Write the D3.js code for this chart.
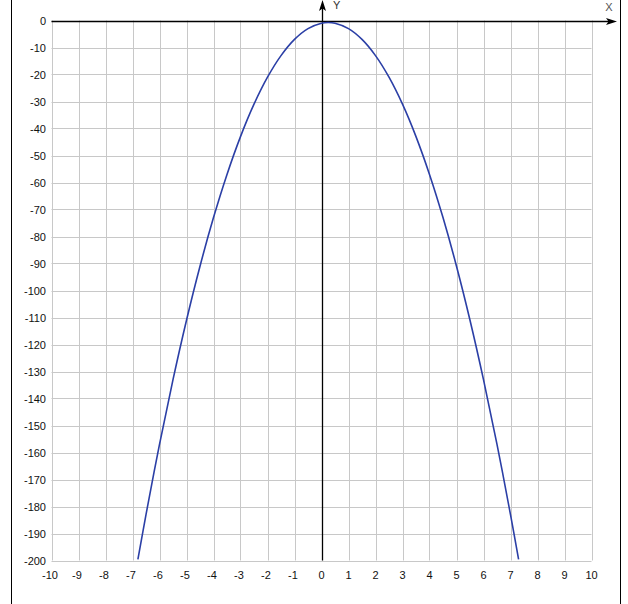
<!DOCTYPE html>
<html><head><meta charset="utf-8">
<script src="https://cdn.jsdelivr.net/npm/d3@7"></script>
<style>html,body{margin:0;padding:0;background:#fff;}svg{display:block;}</style>
</head><body>
<script>
const xTicks = [-10,-9,-8,-7,-6,-5,-4,-3,-2,-1,0,1,2,3,4,5,6,7,8,9,10];
const yTicks = [0,-10,-20,-30,-40,-50,-60,-70,-80,-90,-100,-110,-120,-130,-140,-150,-160,-170,-180,-190,-200];
const curveX = [-6.8,-6.5,-6,-5.5,-5,-4.5,-4,-3.5,-3,-2.5,-2,-1.5,-1,-0.5,0,0.25,0.5,1,1.5,2,2.5,3,3.5,4,4.5,5,5.5,6,6.5,7,7.3];
const curveY = [-199.56,-183,-157,-133,-111,-91,-73,-57,-43,-31,-21,-13,-7,-3,-1,-0.75,-1,-3,-7,-13,-21,-31,-43,-57,-73,-91,-111,-133,-157,-183,-199.56];

const W = 628, H = 604;
const svg = d3.select("body").append("svg").attr("width", W).attr("height", H);
const x = d3.scaleLinear().domain([-10,10]).range([51.5,591.5]);
const y = d3.scaleLinear().domain([0,-200]).range([20.5,560.5]);
const font = "'Liberation Sans', Arial, sans-serif";

// frame lines
svg.append("line").attr("x1",11.5).attr("x2",11.5).attr("y1",0).attr("y2",H).attr("stroke","#000").attr("stroke-width",1);
svg.append("line").attr("x1",620.5).attr("x2",620.5).attr("y1",0).attr("y2",H).attr("stroke","#000").attr("stroke-width",1);

// grid
svg.append("g").selectAll("line").data(xTicks).join("line")
  .attr("x1",d=>Math.round(x(d))+0.5).attr("x2",d=>Math.round(x(d))+0.5)
  .attr("y1",y(0)).attr("y2",y(-200)).attr("stroke","#c8c8c8").attr("stroke-width",1);
svg.append("g").selectAll("line").data(yTicks).join("line")
  .attr("x1",x(-10)).attr("x2",x(10))
  .attr("y1",d=>Math.round(y(d))+0.5).attr("y2",d=>Math.round(y(d))+0.5).attr("stroke","#c8c8c8").attr("stroke-width",1);

// axes
svg.append("line").attr("x1",x(-10)).attr("x2",612).attr("y1",Math.round(y(0))+0.5).attr("y2",Math.round(y(0))+0.5).attr("stroke","#000").attr("stroke-width",1.3);
svg.append("path").attr("d",`M617,${Math.round(y(0))+0.5} L606,${Math.round(y(0))-3} L608.5,${Math.round(y(0))+0.5} L606,${Math.round(y(0))+4} Z`).attr("fill","#000");
svg.append("line").attr("x1",Math.round(x(0))+0.5).attr("x2",Math.round(x(0))+0.5).attr("y1",y(-200)).attr("y2",6).attr("stroke","#000").attr("stroke-width",1.3);
svg.append("path").attr("d",`M${Math.round(x(0))+0.5},0 L${Math.round(x(0))-3},11 L${Math.round(x(0))+0.5},8.5 L${Math.round(x(0))+4},11 Z`).attr("fill","#000");
svg.append("text").attr("x",609).attr("y",11).attr("font-family",font).attr("font-size",11).attr("fill","#555").attr("text-anchor","middle").text("X");
svg.append("text").attr("x",333).attr("y",9).attr("font-family",font).attr("font-size",11).attr("fill","#333").text("Y");

// tick labels
svg.append("g").selectAll("text").data(yTicks).join("text")
  .attr("x",46).attr("y",d=>y(d)+4).attr("text-anchor","end")
  .attr("font-family",font).attr("font-size",11).attr("fill","#111").text(d=>d);
svg.append("g").selectAll("text").data(xTicks).join("text")
  .attr("x",d=>x(d)+ (d<0?-1.5:0)).attr("y",579).attr("text-anchor","middle")
  .attr("font-family",font).attr("font-size",11).attr("fill","#111").text(d=>d);

// curve
const pts = curveX.map((v,i)=>[v,curveY[i]]);
svg.append("path").datum(pts)
  .attr("d", d3.line().x(d=>x(d[0])).y(d=>y(d[1])).curve(d3.curveCatmullRom))
  .attr("fill","none").attr("stroke","#2b3fa6").attr("stroke-width",1.6);
</script>
</body></html>
